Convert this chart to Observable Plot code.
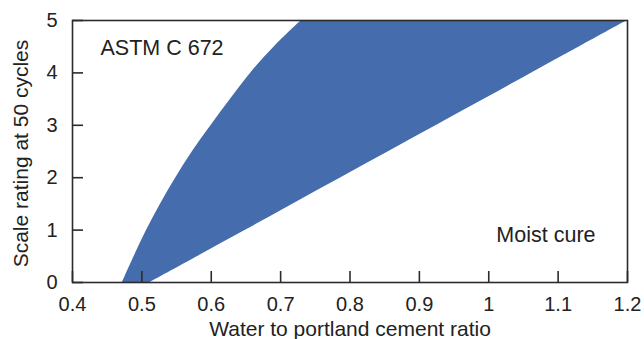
<!DOCTYPE html>
<html>
<head>
<meta charset="utf-8">
<script src="https://cdn.jsdelivr.net/npm/d3@7"></script>
<script src="https://cdn.jsdelivr.net/npm/@observablehq/plot@0.6"></script>
<style>
  html, body { margin: 0; padding: 0; background: #fff; }
</style>
</head>
<body>
<div id="chart"></div>
<script>
// Scale rating levels (y) and the band's left/right water-cement ratio bounds (x)
const ratingLevels = [0, 0.5, 1, 1.5, 2, 2.5, 3, 3.5, 4, 4.5, 5];
const lowerRatio   = [0.472, 0.489, 0.507, 0.527, 0.549, 0.573, 0.600, 0.628, 0.657, 0.691, 0.730];
const upperRatio   = [0.512, 0.581, 0.650, 0.718, 0.787, 0.856, 0.925, 0.994, 1.062, 1.131, 1.2];

const xTicks = [0.4, 0.5, 0.6, 0.7, 0.8, 0.9, 1.0, 1.1, 1.2];
const xTickLabels = ["0.4", "0.5", "0.6", "0.7", "0.8", "0.9", "1", "1.1", "1.2"];
const yTicks = [0, 1, 2, 3, 4, 5];
const yTickLabels = ["0", "1", "2", "3", "4", "5"];

const xTitle = "Water to portland cement ratio";
const yTitle = "Scale rating at 50 cycles";
const noteTopLeft = "ASTM C 672";
const noteBottomRight = "Moist cure";

const band = ratingLevels.map((r, i) => ({rating: r, lower: lowerRatio[i], upper: upperRatio[i]}));
const xLabelMap = new Map(xTicks.map((t, i) => [t, xTickLabels[i]]));
const yLabelMap = new Map(yTicks.map((t, i) => [t, yTickLabels[i]]));

const W = 644, H = 339;
const mL = 72, mR = 17, mT = 20, mB = 57;
const frameW = W - mL - mR, frameH = H - mT - mB;
const xDomain = [0.4, 1.2], yDomain = [0, 5];
const tickLen = 11;

const ink = "#222";
const lineInk = "#2b2b2b";

const chart = Plot.plot({
  width: W,
  height: H,
  marginLeft: mL,
  marginRight: mR,
  marginTop: mT,
  marginBottom: mB,
  x: {domain: xDomain},
  y: {domain: yDomain},
  style: {fontFamily: "'Liberation Sans', Arial, sans-serif", fontSize: "20px", color: ink, background: "#fff"},
  marks: [
    // band
    Plot.areaX(band, {y: "rating", x1: "lower", x2: "upper", fill: "#456cac", curve: "catmull-rom"}),
    // tick labels
    Plot.axisX(xTicks, {anchor: "bottom", tickSize: 0, tickPadding: 14.5, tickFormat: d => xLabelMap.get(d), label: null, fill: ink, fontSize: 20}),
    Plot.axisY(yTicks, {anchor: "left", tickSize: 0, tickPadding: 15, tickFormat: d => yLabelMap.get(d), label: null, fill: ink, fontSize: 20}),
    // axis titles
    Plot.text([xTitle], {text: d => d, frameAnchor: "bottom", textAnchor: "middle", lineAnchor: "bottom", dy: 53, fill: ink, fontSize: 21}),
    Plot.text([yTitle], {text: d => d, frameAnchor: "left", textAnchor: "middle", lineAnchor: "bottom", rotate: -90, dx: -45, dy: 2, fill: ink, fontSize: 21}),
    // annotations
    Plot.text([noteTopLeft], {text: d => d, frameAnchor: "top-left", textAnchor: "start", lineAnchor: "bottom", dx: 28, dy: 34, fill: ink, fontSize: 21.5}),
    Plot.text([noteBottomRight], {text: d => d, frameAnchor: "bottom-right", textAnchor: "end", lineAnchor: "bottom", dx: -32, dy: -41, fill: ink, fontSize: 21.5}),
    Plot.frame({stroke: lineInk, strokeWidth: 1.6}),
    // inward ticks, drawn last so nothing covers them
    Plot.tickX(xTicks, {x: d => d, insetTop: frameH - tickLen, stroke: lineInk, strokeWidth: 1.6}),
    Plot.tickY(yTicks, {y: d => d, insetRight: frameW - tickLen, stroke: lineInk, strokeWidth: 1.6})
  ]
});

document.getElementById("chart").appendChild(chart);
</script>
</body>
</html>
